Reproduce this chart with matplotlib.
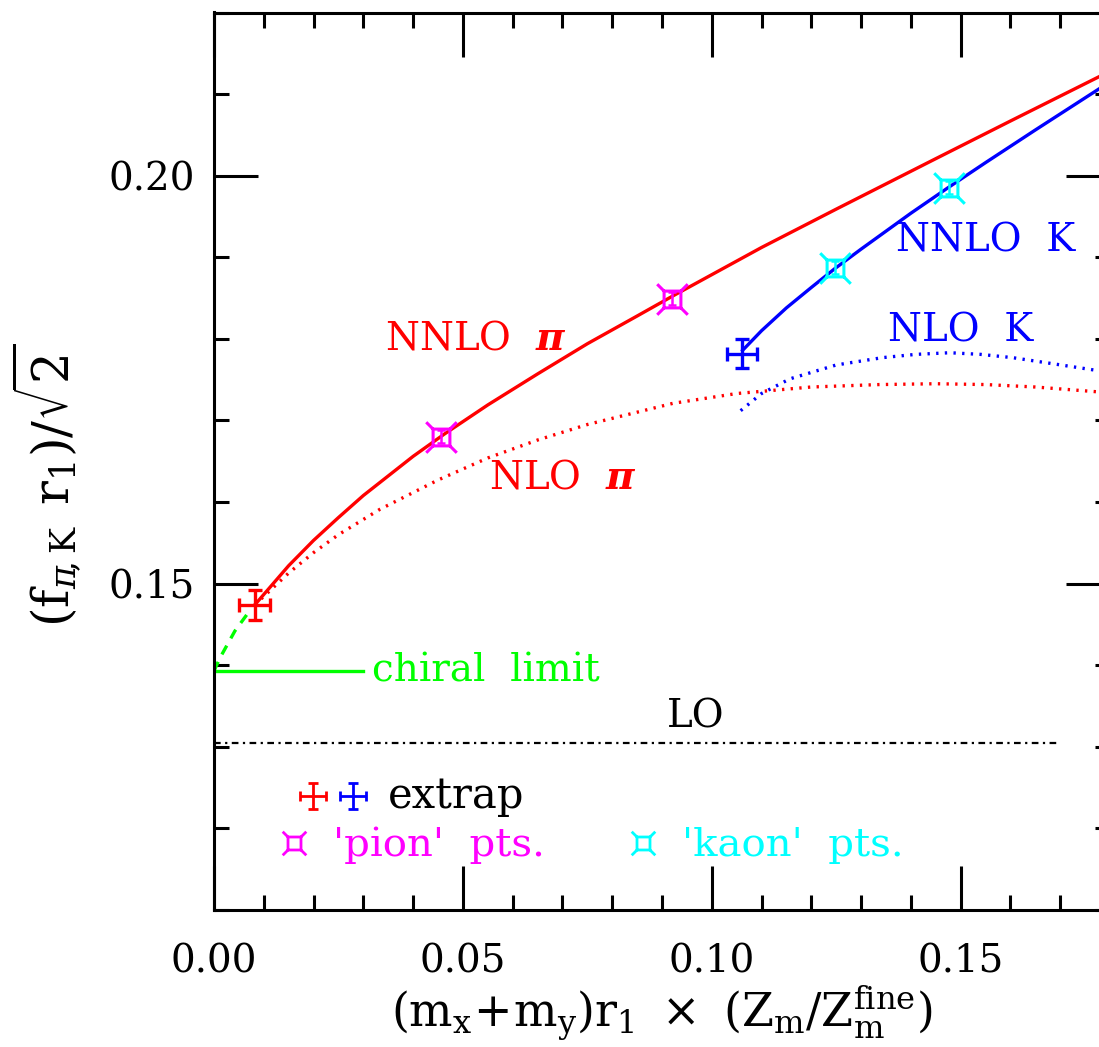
import numpy as np
import matplotlib
matplotlib.use("Agg")
import matplotlib.pyplot as plt
from matplotlib.path import Path

plt.rcParams['font.family'] = ['DejaVu Serif']
plt.rcParams['mathtext.fontset'] = 'dejavuserif'

# ---------------- data ----------------
# NNLO pion fit (red solid)
nnlo_pi_x = [0.0082, 0.0150, 0.0200, 0.0250, 0.0300, 0.0350, 0.0400, 0.0462, 0.0550,
             0.0650, 0.0750, 0.0850, 0.0920, 0.1100, 0.1250, 0.1444, 0.1600, 0.1777, 0.1800]
nnlo_pi_y = [0.1474, 0.1522, 0.1553, 0.1581, 0.1608, 0.1632, 0.1656, 0.1683, 0.1719,
             0.1757, 0.1794, 0.1828, 0.1852, 0.1912, 0.1959, 0.2019, 0.2067, 0.2121, 0.2128]
# NLO pion fit (red dotted)
nlo_pi_x = [0.0082, 0.0150, 0.0200, 0.0250, 0.0333, 0.0450, 0.0550, 0.0650, 0.0750,
            0.0922, 0.1050, 0.1200, 0.1337, 0.1450, 0.1550, 0.1650, 0.1777, 0.1800]
nlo_pi_y = [0.1474, 0.1513, 0.1538, 0.1560, 0.1591, 0.1627, 0.1654, 0.1676, 0.1695,
            0.1721, 0.1733, 0.1741, 0.1744, 0.1745, 0.1744, 0.1741, 0.1735, 0.1733]
# NNLO kaon fit (blue solid)
nnlo_k_x = [0.1062, 0.1100, 0.1150, 0.1200, 0.1247, 0.1300, 0.1350, 0.1400, 0.1474,
            0.1550, 0.1650, 0.1777, 0.1800]
nnlo_k_y = [0.1786, 0.1810, 0.1838, 0.1863, 0.1886, 0.1910, 0.1932, 0.1954, 0.1985,
            0.2016, 0.2056, 0.2106, 0.2115]
# NLO kaon fit (blue dotted)
nlo_k_x = [0.1058, 0.1100, 0.1157, 0.1250, 0.1343, 0.1410, 0.1478, 0.1540, 0.1604,
           0.1680, 0.1777, 0.1800]
nlo_k_y = [0.1712, 0.1733, 0.1751, 0.1768, 0.1777, 0.1781, 0.1783, 0.1781, 0.1777,
           0.1770, 0.1761, 0.1758]
# chiral extrapolation (green dashed) and chiral limit
chiral_x = [0.0000, 0.0012, 0.0042, 0.0072]
chiral_y = [0.1393, 0.1409, 0.1442, 0.1467]
chiral_limit = 0.1393
chiral_end = 0.030
# LO
lo_value = 0.1305
lo_end = 0.170
# extrapolated points
extrap_x = [0.0082, 0.1060]
extrap_y = [0.1474, 0.1782]
extrap_xerr = [0.0031, 0.0030]
extrap_yerr = [0.0018, 0.0018]
extrap_colors = ['red', 'blue']
# 'pion' points
pion_x = [0.0457, 0.0920]
pion_y = [0.1680, 0.1849]
pion_yerr = [0.0008, 0.0008]
# 'kaon' points
kaon_x = [0.1247, 0.1477]
kaon_y = [0.1887, 0.1985]
kaon_yerr = [0.0008, 0.0008]

xticks = [0.00, 0.05, 0.10, 0.15]
yticks = [0.15, 0.20]

GREEN = '#00ff00'

# ---------------- figure ----------------
W, H = 1099, 1047
fig = plt.figure(figsize=(W / 100, H / 100), dpi=100)
ax = fig.add_axes([214 / W, 1 - 910 / H, 896 / W, 897.5 / H])
ax.set_xlim(0, 0.18)
ax.set_ylim(0.11, 0.22)

lw = 2.4
dots = (0, (0.7, 1.9))
ax.plot(nnlo_pi_x, nnlo_pi_y, color='red', lw=lw)
ax.plot(nlo_pi_x, nlo_pi_y, color='red', lw=lw, ls=dots)
ax.plot(nnlo_k_x, nnlo_k_y, color='blue', lw=lw)
ax.plot(nlo_k_x, nlo_k_y, color='blue', lw=lw, ls=dots)
ax.plot(chiral_x, chiral_y, color=GREEN, lw=lw, ls=(0, (3, 2.5)))
ax.plot([0, chiral_end], [chiral_limit, chiral_limit], color=GREEN, lw=lw)
ax.plot([0, lo_end], [lo_value, lo_value], color='black', lw=1.6,
        ls=(0, (3, 2, 1, 2)))

# custom marker: square with diagonal spikes at the corners
s = 0.55
verts = [(-s, -s), (s, -s), (s, s), (-s, s), (-s, -s),
         (s, s), (1, 1), (-s, s), (-1, 1), (-s, -s), (-1, -1), (s, -s), (1, -1)]
codes = [Path.MOVETO, Path.LINETO, Path.LINETO, Path.LINETO, Path.LINETO,
         Path.MOVETO, Path.LINETO, Path.MOVETO, Path.LINETO, Path.MOVETO, Path.LINETO,
         Path.MOVETO, Path.LINETO]
spike = Path(verts, codes)

for x, y, xe, ye, c in zip(extrap_x, extrap_y, extrap_xerr, extrap_yerr, extrap_colors):
    ax.errorbar([x], [y], xerr=[xe], yerr=[ye], fmt='none', ecolor=c,
                elinewidth=2.4, capsize=5, capthick=2.4)

for x, y, ye in zip(pion_x, pion_y, pion_yerr):
    ax.plot([x], [y], marker=spike, ms=22, mfc='none', mec='magenta', mew=2.2, ls='none')
    ax.errorbar([x], [y], yerr=[ye], fmt='none', ecolor='magenta', elinewidth=1.8,
                capsize=3, capthick=1.8)
for x, y, ye in zip(kaon_x, kaon_y, kaon_yerr):
    ax.plot([x], [y], marker=spike, ms=22, mfc='none', mec='cyan', mew=2.2, ls='none')
    ax.errorbar([x], [y], yerr=[ye], fmt='none', ecolor='cyan', elinewidth=1.8,
                capsize=3, capthick=1.8)

fs = 28
pi = r'$\boldsymbol{\pi}$'
ax.text(0.0526, 0.1800, 'NNLO  ' + pi, color='red', fontsize=fs, ha='center', va='center')
ax.text(0.0701, 0.1629, 'NLO  ' + pi, color='red', fontsize=fs, ha='center', va='center')
ax.text(0.1550, 0.1920, 'NNLO  K', color='blue', fontsize=fs, ha='center', va='center')
ax.text(0.1500, 0.1810, 'NLO  K', color='blue', fontsize=fs, ha='center', va='center')
ax.text(0.0317, 0.1393, 'chiral  limit', color=GREEN, fontsize=fs, ha='left', va='center')
ax.text(0.0968, 0.1336, 'LO', color='black', fontsize=fs, ha='center', va='center')

# legend-like key
ax.errorbar([0.0199], [0.1240], xerr=[0.0026], yerr=[0.0016], fmt='none', ecolor='red',
            elinewidth=2, capsize=3.5, capthick=2)
ax.errorbar([0.0279], [0.1240], xerr=[0.0026], yerr=[0.0016], fmt='none', ecolor='blue',
            elinewidth=2, capsize=3.5, capthick=2)
ax.text(0.0349, 0.1240, 'extrap', color='black', fontsize=30, ha='left', va='center')
ax.plot([0.0160], [0.1182], marker=spike, ms=17, mfc='none', mec='magenta', mew=2, ls='none')
ax.text(0.0239, 0.1179, "'pion'  pts.", color='magenta', fontsize=29, ha='left', va='center')
ax.plot([0.0861], [0.1182], marker=spike, ms=17, mfc='none', mec='cyan', mew=2, ls='none')
ax.text(0.0940, 0.1179, "'kaon'  pts.", color='cyan', fontsize=29, ha='left', va='center')

# axes styling
for sp in ax.spines.values():
    sp.set_linewidth(2.2)
ax.set_xticks(xticks)
ax.set_xticklabels([f'{t:.2f}' for t in xticks])
ax.set_yticks(yticks)
ax.set_yticklabels([f'{t:.2f}' for t in yticks])
ax.set_xticks(np.arange(0, 0.1801, 0.01), minor=True)
ax.set_yticks(np.arange(0.11, 0.2201, 0.01), minor=True)
ax.tick_params(which='both', direction='in', top=True, right=True, width=2.2,
               labelsize=28)
ax.tick_params(which='major', length=32)
ax.tick_params(which='minor', length=11)
ax.tick_params(axis='x', which='major', pad=24)
ax.tick_params(axis='y', which='major', pad=14)

fig.text(47 / W, 1 - 485 / H, r'$(\mathrm{f}_{\pi\!,\mathrm{K}}\;\,\mathrm{r}_1)/\sqrt{2}$',
         rotation=90, ha='center', va='center', fontsize=36)
fig.text(662 / W, 1 - 1012 / H,
         r'$(\mathrm{m_x\!+\!m_y)r_1}\ \times\ (\mathrm{Z_m/Z_m^{fine}})$',
         ha='center', va='center', fontsize=33)

fig.savefig('out.png', dpi=100)
